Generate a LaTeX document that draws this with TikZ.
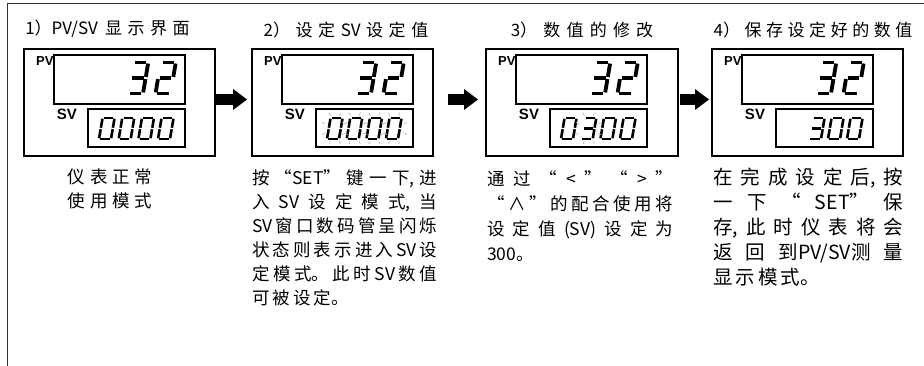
\documentclass[tikz,border=0pt]{standalone}
\usepackage{fontspec}
\setmainfont{Noto Sans CJK SC}
\newfontfamily\tagfont{Liberation Sans}
\usetikzlibrary{positioning,arrows.meta}

\XeTeXlinebreaklocale "zh"
\XeTeXlinebreakskip=3pt plus 8pt
\newcommand{\gap}{\hskip 3pt plus 8pt\relax}

\newcommand{\lcdsegs}[1]{%
  \foreach \s in {#1}{%
    \ifcase\s
      \draw (0.12,2) -- (0.88,2);
    \or \draw (1,1.93) -- (1,1.07);
    \or \draw (1,0.93) -- (1,0.07);
    \or \draw (0.12,0) -- (0.88,0);
    \or \draw (0,0.07) -- (0,0.93);
    \or \draw (0,1.07) -- (0,1.93);
    \or \draw (0.12,1) -- (0.88,1);
    \fi}}
\newcommand{\lcdglyph}[1]{%
  \ifcase#1 \lcdsegs{0,1,2,3,4,5}\or\lcdsegs{1,2}\or\lcdsegs{0,1,6,4,3}\or\lcdsegs{0,1,6,2,3}\fi}
\newcommand{\pvdigit}[3]{%
  \begin{scope}[shift={(#1.south east)}, shift={(#2,-10.5)}, x=15pt, y=15.5pt, xslant=0.17, seg, line width=3.8pt]
    \lcdglyph{#3}
  \end{scope}}
\newcommand{\svdigit}[3]{%
  \begin{scope}[shift={(#1.south east)}, shift={(#2,-8)}, x=12pt, y=10.5pt, xslant=0.17, seg, line width=2.6pt]
    \lcdglyph{#3}
  \end{scope}}
\newcommand{\flash}[2]{%
  \begin{scope}[shift={(#1.south east)}, shift={(#2+8,-18.5)}]
    \foreach \a in {20,65,115,160,200,245,295,340}
      \draw [flashmark] (\a:10.5 and 14) -- (\a:13.5 and 17.5);
  \end{scope}}

\tikzset{
  panel/.style={draw, line width=1.3pt, minimum width=191pt, minimum height=107pt, inner sep=0pt, outer sep=0pt},
  pvbox/.style={draw, line width=1.1pt, minimum width=131pt, minimum height=49pt, inner sep=0pt, outer sep=0pt},
  svbox/.style={draw, line width=1.1pt, minimum width=97pt, minimum height=38pt, inner sep=0pt, outer sep=0pt},
  pvtag/.style={font=\tagfont\bfseries\fontsize{13}{13}\selectfont, inner sep=0pt, outer sep=0pt},
  svtag/.style={font=\tagfont\bfseries\fontsize{15}{15}\selectfont, inner sep=0pt, outer sep=0pt},
  title/.style={font={\fontsize{17}{20}\selectfont\XeTeXlinebreakskip=4.5pt plus 2pt}, text width=200pt, align=center, inner sep=0pt},
  note/.style={font=\fontsize{17.5}{24}\selectfont, inner sep=0pt, align=justify},
  seg/.style={line cap=butt},
  flashmark/.style={gray!55, line width=0.7pt},
  flow/.style={line width=11pt, -{Triangle[length=14pt, width=21pt, line width=0pt]}},
}

\begin{document}
\begin{tikzpicture}[x=1pt, y=-1pt]

  \useasboundingbox (0,0) rectangle (924,366);
  \draw [line width=1.4pt, draw=black!80] (924,3.5) -- (7.5,3.5) -- (7.5,366);

  \node (m1) [panel] at (119.5,102.5) {};
  \node (m2) [panel, minimum width=181pt, right=37pt of m1] {};
  \node (m3) [panel, minimum width=192pt, right=53pt of m2] {};
  \node (m4) [panel, right=34pt of m3] {};

  \node (t1) [title, above=11pt of m1.north, xshift=-12pt] {1）\mbox{PV/SV}\gap 显示界面};
  \node (t2) [title, above=11pt of m2.north, xshift=3.5pt] {2）设定SV设定值};
  \node (t3) [title, above=11pt of m3.north] {3）数值的修改};
  \node (t4) [title, above=11pt of m4.north, xshift=5.5pt] {4）保存设定好的数值};

  \node (pv1) [pvbox, below right=6pt and 30pt of m1.north west] {};
  \node (pv2) [pvbox, below right=6pt and 30pt of m2.north west] {};
  \node (pv3) [pvbox, below right=6pt and 30pt of m3.north west] {};
  \node (pv4) [pvbox, below right=6pt and 30pt of m4.north west] {};
  \node (sv1) [svbox, below left=5pt and 0pt of pv1.south east] {};
  \node (sv2) [svbox, below left=5pt and 0pt of pv2.south east] {};
  \node (sv3) [svbox, below left=5pt and 0pt of pv3.south east] {};
  \node (sv4) [svbox, below left=5pt and 0pt of pv4.south east] {};

  \node (pvtag1) [pvtag, below left=2pt and 0.5pt of pv1.north west] {PV};
  \node (pvtag2) [pvtag, below left=2pt and 0.5pt of pv2.north west] {PV};
  \node (pvtag3) [pvtag, below left=2pt and 0.5pt of pv3.north west] {PV};
  \node (pvtag4) [pvtag, below left=2pt and 0.5pt of pv4.north west] {PV};
  \node (svtag1) [svtag, below left=0pt and 11pt of sv1.north west] {SV};
  \node (svtag2) [svtag, below left=0pt and 11pt of sv2.north west] {SV};
  \node (svtag3) [svtag, below left=0pt and 11pt of sv3.north west] {SV};
  \node (svtag4) [svtag, below left=0pt and 11pt of sv4.north west] {SV};

  \pvdigit{pv1}{-57}{3} \pvdigit{pv1}{-29.5}{2}
  \pvdigit{pv2}{-57}{3} \pvdigit{pv2}{-29.5}{2}
  \pvdigit{pv3}{-57}{3} \pvdigit{pv3}{-29.5}{2}
  \pvdigit{pv4}{-57}{3} \pvdigit{pv4}{-29.5}{2}

  \svdigit{sv1}{-86}{0} \svdigit{sv1}{-66.3}{0} \svdigit{sv1}{-46.6}{0} \svdigit{sv1}{-27}{0}
  \svdigit{sv2}{-86}{0} \svdigit{sv2}{-66.3}{0} \svdigit{sv2}{-46.6}{0} \svdigit{sv2}{-27}{0}
  \svdigit{sv3}{-86}{0} \svdigit{sv3}{-66.3}{3} \svdigit{sv3}{-46.6}{0} \svdigit{sv3}{-27}{0}
  \svdigit{sv4}{-64}{3} \svdigit{sv4}{-45}{0} \svdigit{sv4}{-26}{0}

  \flash{sv2}{-86} \flash{sv2}{-66.3} \flash{sv2}{-46.6} \flash{sv2}{-27}
  \flash{sv3}{-66.3}

  \draw [flow, shorten <=1pt, shorten >=5pt] ([yshift=3pt]m1.east) -- ([yshift=3pt]m2.west);
  \draw [flow, shorten <=15pt, shorten >=8pt] ([yshift=3pt]m2.east) -- ([yshift=3pt]m3.west);
  \draw [flow, shorten <=2pt, shorten >=3pt] ([yshift=3pt]m3.east) -- ([yshift=3pt]m4.west);

  \node (n1) [note, text width=100pt, align=center, below=13pt of m1.south, xshift=-9.5pt] {仪表正常\\使用模式};
  \node (n2) [note, text width=185pt, below right=13pt and 0pt of m2.south west]
    {按“SET”键一下,进\linebreak
     入SV设定模式,当\linebreak
     SV窗口数码管呈闪烁\linebreak
     状态则表示进入SV设\linebreak
     定模式。此时SV数值\linebreak
     可被设定。};
  \node (n3) [note, font=\fontsize{17.5}{25}\selectfont, text width=186pt, below right=14pt and 1pt of m3.south west]
    {通过“\gap<\gap”\gap“\gap>\gap”\linebreak
     “\gap∧\gap”的配合使用将\linebreak
     设定值(SV)设定为\linebreak
     300。};
  \node (n4) [note, font=\fontsize{19.5}{25}\selectfont, text width=190pt, below right=12pt and 1pt of m4.south west]
    {在完成设定后,按\linebreak
     一下“\gap SET”保\linebreak
     存,此时仪表将会\linebreak
     返回到\mbox{PV/SV}测量\linebreak
     显示模式。};

\end{tikzpicture}
\end{document}
